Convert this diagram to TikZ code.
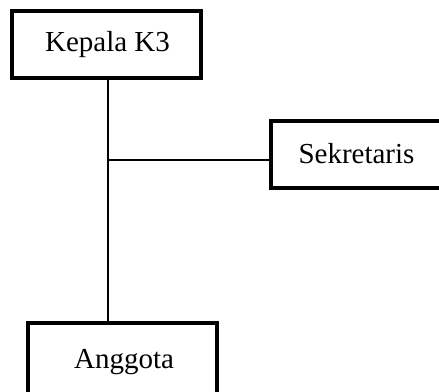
\documentclass[tikz,border=0pt]{standalone}
\usepackage{fontspec}
\setmainfont{Liberation Serif}
\begin{document}
\begin{tikzpicture}[x=1pt,y=-1pt,
  box/.style={draw=black,line width=3.8pt,fill=white,minimum width=189pt,minimum height=67pt,inner sep=0pt,outer sep=0pt},
  lbl/.style={anchor=base,inner sep=0pt,font=\fontsize{29}{34}\selectfont},
  conn/.style={draw=black,line width=1.4pt}]
\useasboundingbox (0,0) rectangle (439,391);
\coordinate (top) at (108,78);
\coordinate (bot) at (108,323);
\coordinate (j) at (108,160);
\draw[conn] (top) -- (bot);
\node[box] (kep) at (106.5,44.5) {};
\node[box] (sek) at (365.5,154.5) {};
\node[box,minimum height=80pt] (ang) at (122.5,363) {};
\draw[conn] (j) -- (sek.west |- j);
\node[lbl] (tkep) at (107.5,51) {Kepala K3};
\node[lbl] (tsek) at (356.5,163) {Sekretaris};
\node[lbl] (tang) at (124,368) {Anggota};
\end{tikzpicture}
\end{document}
